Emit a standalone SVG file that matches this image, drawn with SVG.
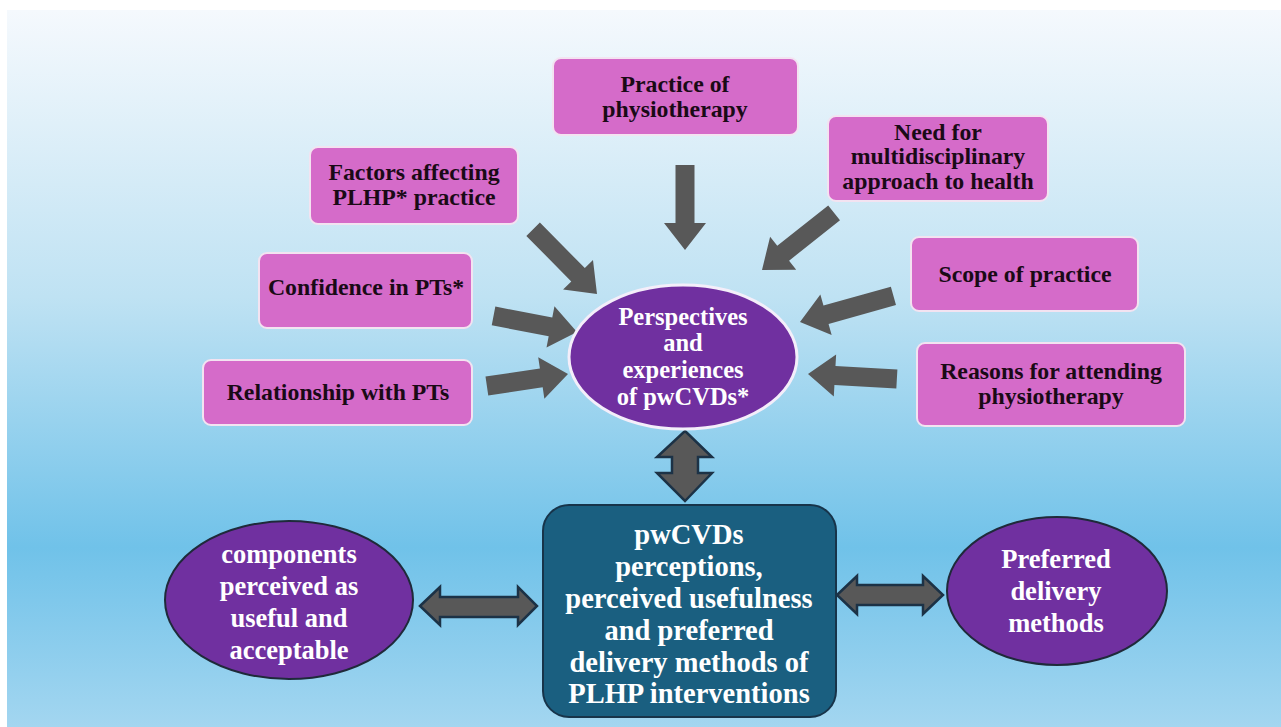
<svg xmlns="http://www.w3.org/2000/svg" width="1281" height="727" viewBox="0 0 1281 727">
<defs>
<linearGradient id="bg" x1="0" y1="0" x2="0" y2="1">
<stop offset="0" stop-color="#f5f9fd"/>
<stop offset="0.4" stop-color="#bfe2f3"/>
<stop offset="0.75" stop-color="#70c2e9"/>
<stop offset="1" stop-color="#a3d6f0"/>
</linearGradient>
</defs>
<style>
.pink{fill:#d56bc9;stroke:#f3e3f1;stroke-width:2}
.pt{font-family:"Liberation Serif","Times New Roman",serif;font-weight:bold;font-size:23.8px;fill:#1a0a16;text-anchor:middle}
.wt{font-family:"Liberation Serif","Times New Roman",serif;font-weight:bold;fill:#ffffff;text-anchor:middle}
.purple{fill:#7030a0;stroke:#1f2a3a;stroke-width:2}
.arrow{fill:#585858}
.darr{fill:#585858;stroke:#1c3246;stroke-width:2.5;stroke-linejoin:miter}
</style>
<rect x="0" y="0" width="1281" height="727" fill="#ffffff"/>
<rect x="7" y="10" width="1274" height="717" fill="url(#bg)"/>

<g id="connectors">
<g class="arrow">
<polygon transform="translate(685,250) rotate(90)" points="-85,-9.5 -27,-9.5 -27,-21 0,0 -27,21 -27,9.5 -85,9.5"/>
<polygon transform="translate(597,294) rotate(45.4)" points="-91,-9.5 -27,-9.5 -27,-21 0,0 -27,21 -27,9.5 -91,9.5"/>
<polygon transform="translate(762,270) rotate(141.6)" points="-92,-9.5 -27,-9.5 -27,-21 0,0 -27,21 -27,9.5 -92,9.5"/>
<polygon transform="translate(800,322) rotate(164.4)" points="-97,-9.5 -27,-9.5 -27,-21 0,0 -27,21 -27,9.5 -97,9.5"/>
<polygon transform="translate(577,332) rotate(10.9)" points="-85,-9.5 -27,-9.5 -27,-21 0,0 -27,21 -27,9.5 -85,9.5"/>
<polygon transform="translate(568,374) rotate(-8.4)" points="-82,-9.5 -27,-9.5 -27,-21 0,0 -27,21 -27,9.5 -82,9.5"/>
<polygon transform="translate(808,374) rotate(183.2)" points="-89,-9.5 -27,-9.5 -27,-21 0,0 -27,21 -27,9.5 -89,9.5"/>
</g>
<g class="darr">
<polygon points="685,431 712,457 698,457 698,473 712,473 685,501 657,473 672,473 672,457 657,457"/>
<polygon points="420,606 440,587 440,597 518,597 518,587 537,606 518,625 518,617 440,617 440,625"/>
<polygon points="837,595 857,576 857,585 923,585 923,576 943,595 923,614 923,605 857,605 857,614"/>
</g>
</g>

<g id="practice">
<rect class="pink" x="553" y="58" width="245" height="77" rx="8"/>
<text class="pt" x="675" y="92">Practice of</text>
<text class="pt" x="675" y="117">physiotherapy</text>
</g>
<g id="factors">
<rect class="pink" x="310" y="147" width="208" height="77" rx="8"/>
<text class="pt" x="414" y="180">Factors affecting</text>
<text class="pt" x="414" y="205">PLHP* practice</text>
</g>
<g id="need">
<rect class="pink" x="828" y="116" width="220" height="85" rx="8"/>
<text class="pt" x="938" y="140">Need for</text>
<text class="pt" x="938" y="164">multidisciplinary</text>
<text class="pt" x="938" y="189">approach to health</text>
</g>
<g id="scope">
<rect class="pink" x="911" y="237" width="227" height="74" rx="8"/>
<text class="pt" x="1025" y="282">Scope of practice</text>
</g>
<g id="confidence">
<rect class="pink" x="259" y="253" width="213" height="75" rx="8"/>
<text class="pt" x="366" y="295">Confidence in PTs*</text>
</g>
<g id="relationship">
<rect class="pink" x="203" y="360" width="269" height="65" rx="8"/>
<text class="pt" x="338" y="400">Relationship with PTs</text>
</g>
<g id="reasons">
<rect class="pink" x="917" y="343" width="268" height="83" rx="8"/>
<text class="pt" x="1051" y="379">Reasons for attending</text>
<text class="pt" x="1051" y="404">physiotherapy</text>
</g>
<g id="perspectives">
<ellipse cx="683" cy="357" rx="114" ry="72" fill="#7030a0" stroke="#f4eefa" stroke-width="3"/>
<text class="wt" font-size="24.5" x="683" y="325">Perspectives</text>
<text class="wt" font-size="24.5" x="683" y="351">and</text>
<text class="wt" font-size="24.5" x="683" y="378">experiences</text>
<text class="wt" font-size="24.5" x="683" y="405">of pwCVDs*</text>
</g>
<g id="pwcvds">
<rect x="543" y="505" width="293" height="212" rx="26" fill="#1a5f80" stroke="#17344a" stroke-width="2"/>
<text class="wt" font-size="28.5" x="689" y="544">pwCVDs</text>
<text class="wt" font-size="28.5" x="689" y="576">perceptions,</text>
<text class="wt" font-size="28.5" x="689" y="608">perceived usefulness</text>
<text class="wt" font-size="28.5" x="689" y="640">and preferred</text>
<text class="wt" font-size="28.5" x="689" y="672">delivery methods of</text>
<text class="wt" font-size="28.5" x="689" y="703">PLHP interventions</text>
</g>
<g id="components">
<ellipse class="purple" cx="289" cy="600" rx="124" ry="79"/>
<text class="wt" font-size="26.5" x="289" y="563">components</text>
<text class="wt" font-size="26.5" x="289" y="595">perceived as</text>
<text class="wt" font-size="26.5" x="289" y="627">useful and</text>
<text class="wt" font-size="26.5" x="289" y="659">acceptable</text>
</g>
<g id="preferred">
<ellipse class="purple" cx="1057" cy="591" rx="110" ry="74"/>
<text class="wt" font-size="26.5" x="1056" y="568">Preferred</text>
<text class="wt" font-size="26.5" x="1056" y="600">delivery</text>
<text class="wt" font-size="26.5" x="1056" y="632">methods</text>
</g>
</svg>
